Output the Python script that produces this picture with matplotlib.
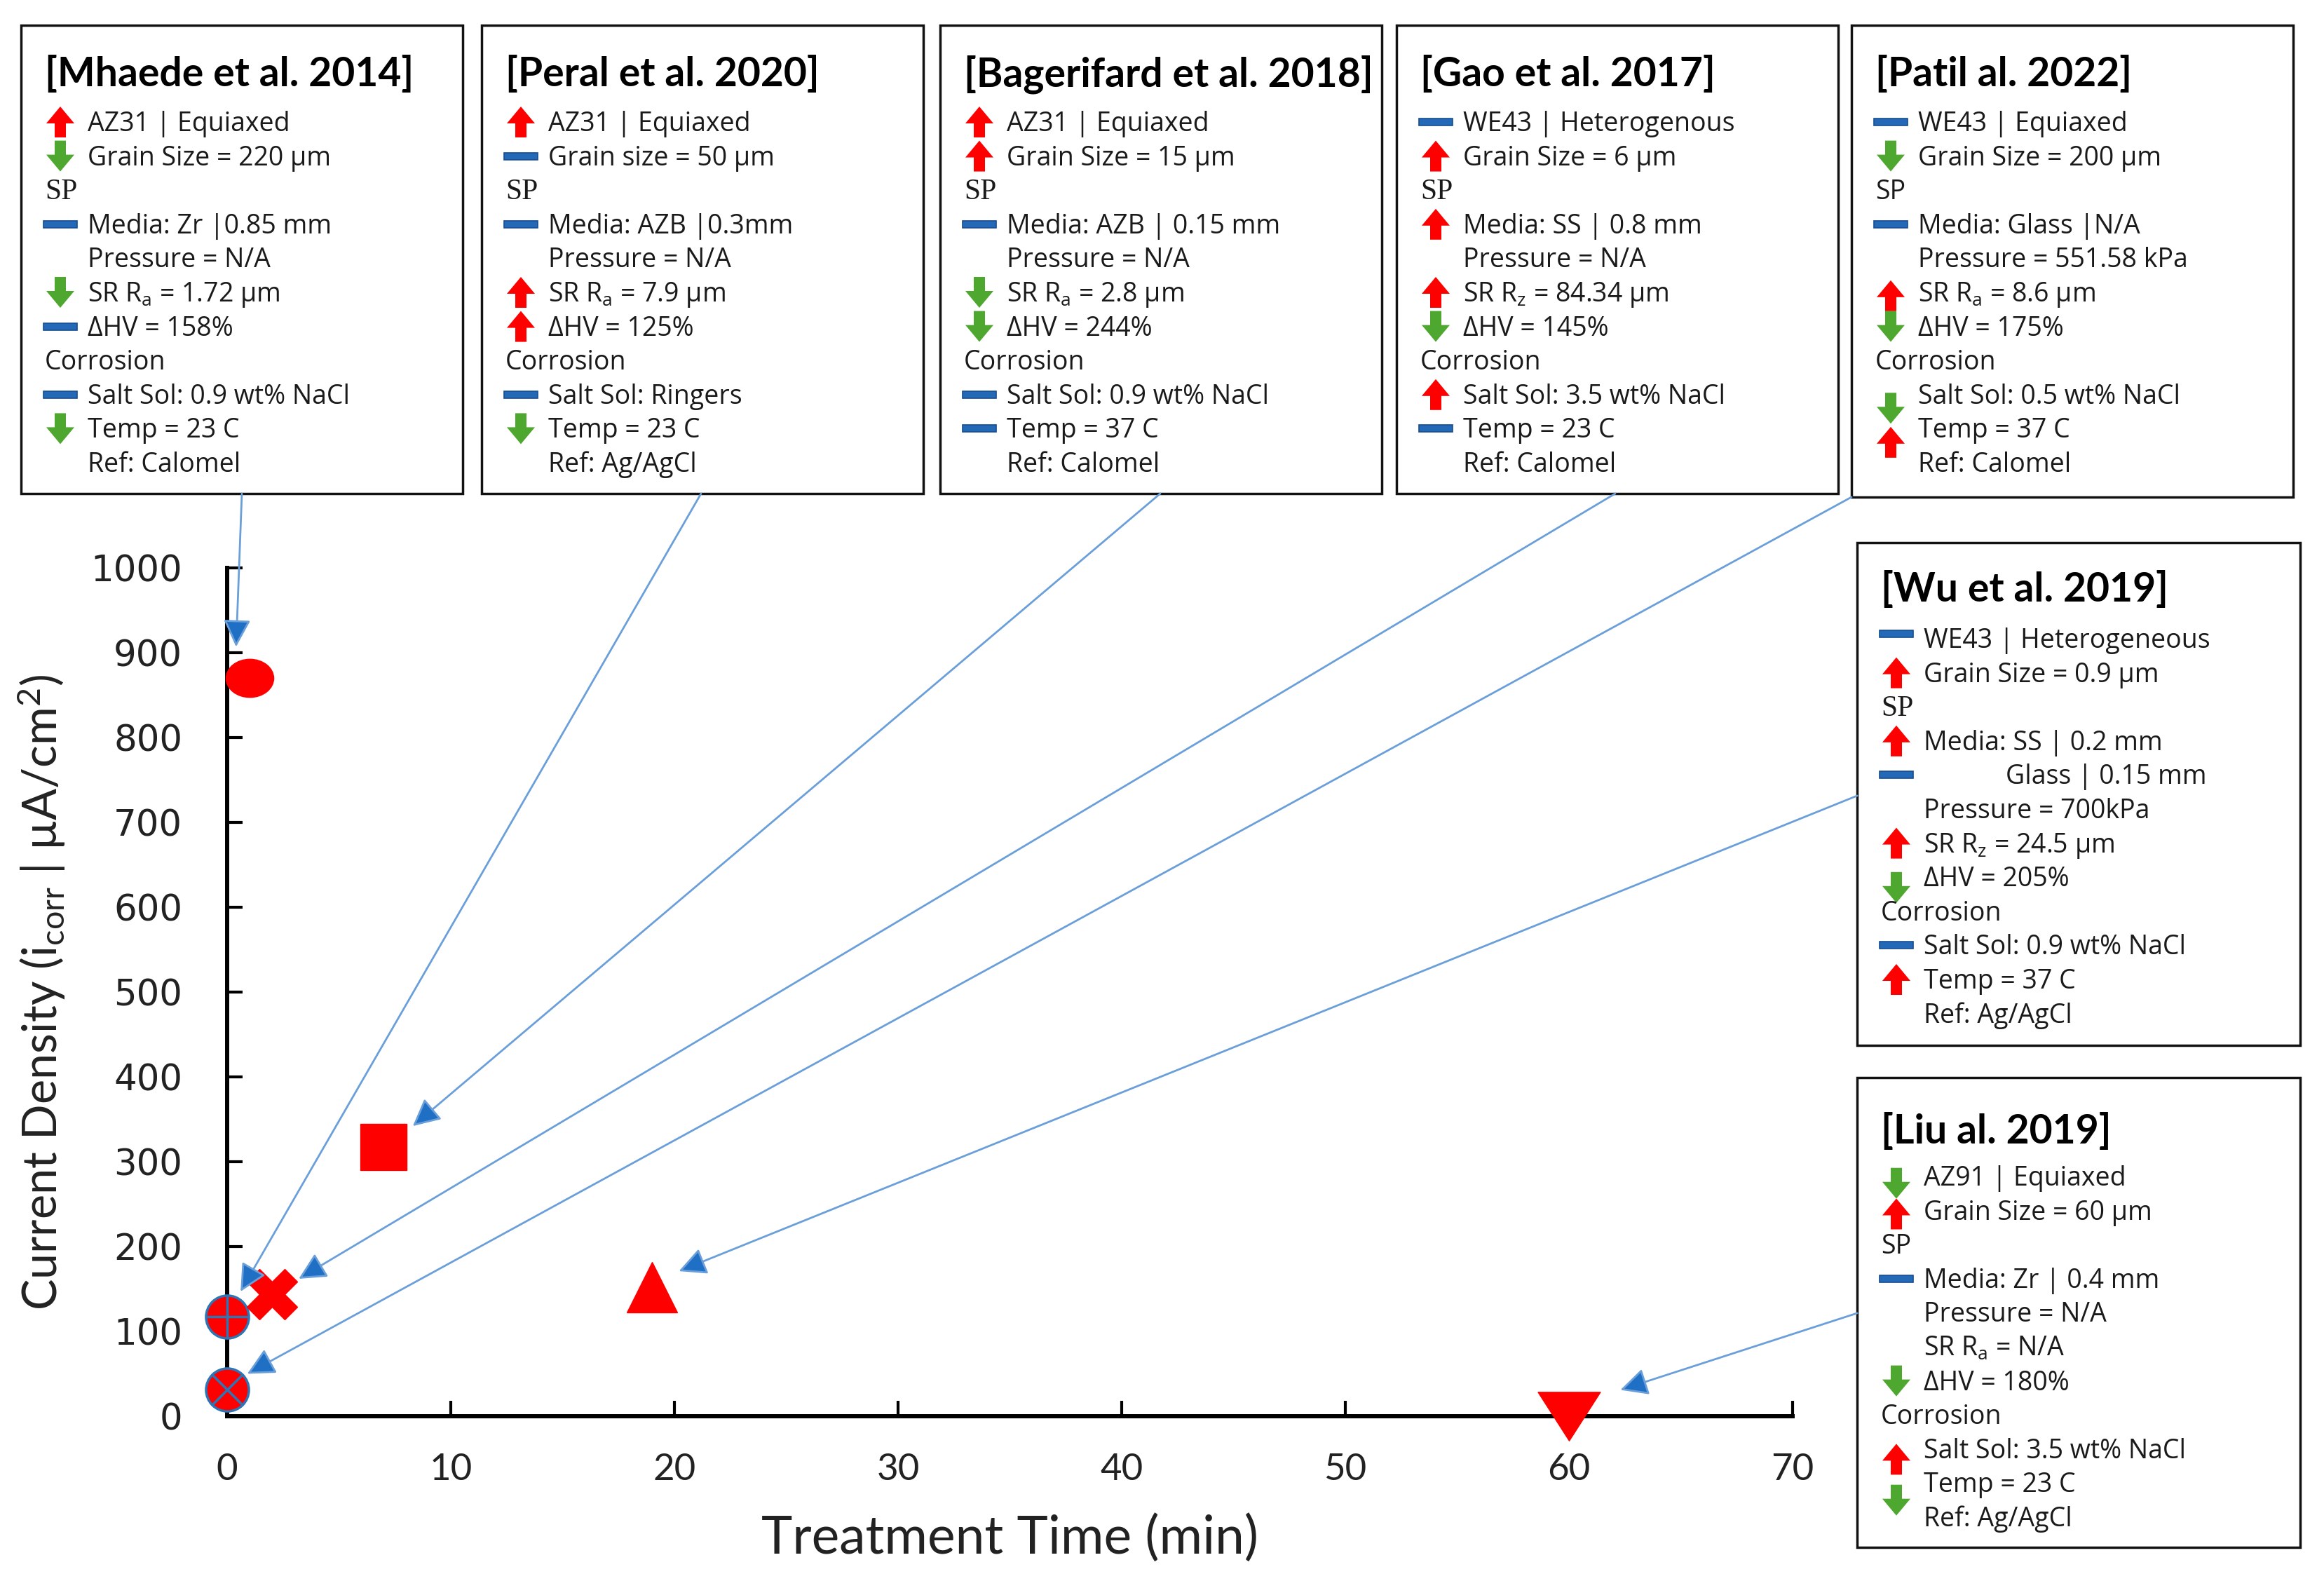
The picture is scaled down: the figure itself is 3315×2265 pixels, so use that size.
import matplotlib.pyplot as plt
from matplotlib.path import Path
from matplotlib.transforms import Affine2D
from matplotlib.patches import Rectangle, Polygon
from matplotlib import font_manager

# ---- data ----
studies = ['Mhaede et al. 2014', 'Peral et al. 2020', 'Bagerifard et al. 2018',
           'Gao et al. 2017', 'Patil al. 2022', 'Wu et al. 2019', 'Liu al. 2019']
treat_time = [1, 0, 7, 2, 0, 19, 60]          # min
i_corr = [870, 117, 317, 144, 31, 152, 0]     # uA/cm2

# where each leader arrow points (data coords)
arrow_x = [0.4, 0.6, 8.3, 3.2, 0.9, 20.2, 62.3]
arrow_y = [907, 147, 342, 162, 50, 171, 31]

xticks = [0, 10, 20, 30, 40, 50, 60, 70]
yticks = [0, 100, 200, 300, 400, 500, 600, 700, 800, 900, 1000]

# box text: u = increase (red), d = decrease (green), b = no change (blue)
mhaede_lines = ['AZ31 | Equiaxed', 'Grain Size = 220 µm', 'SP', 'Media: Zr |0.85 mm',
                'Pressure = N/A', 'SR R$_a$ = 1.72 µm', 'ΔHV = 158%', 'Corrosion',
                'Salt Sol: 0.9 wt% NaCl', 'Temp = 23 C', 'Ref: Calomel']
mhaede_icons = [('u', 0), ('d', 1), ('b', 3), ('d', 5), ('b', 6), ('b', 8), ('d', 9)]

peral_lines = ['AZ31 | Equiaxed', 'Grain size = 50 µm', 'SP', 'Media: AZB |0.3mm',
               'Pressure = N/A', 'SR R$_a$ = 7.9 µm', 'ΔHV = 125%', 'Corrosion',
               'Salt Sol: Ringers', 'Temp = 23 C', 'Ref: Ag/AgCl']
peral_icons = [('u', 0), ('b', 1), ('b', 3), ('u', 5), ('u', 6), ('b', 8), ('d', 9)]

bager_lines = ['AZ31 | Equiaxed', 'Grain Size = 15 µm', 'SP', 'Media: AZB | 0.15 mm',
               'Pressure = N/A', 'SR R$_a$ = 2.8 µm', 'ΔHV = 244%', 'Corrosion',
               'Salt Sol: 0.9 wt% NaCl', 'Temp = 37 C', 'Ref: Calomel']
bager_icons = [('u', 0), ('u', 1), ('b', 3), ('d', 5), ('d', 6), ('b', 8), ('b', 9)]

gao_lines = ['WE43 | Heterogenous', 'Grain Size = 6 µm', 'SP', 'Media: SS | 0.8 mm',
             'Pressure = N/A', 'SR R$_z$ = 84.34 µm', 'ΔHV = 145%', 'Corrosion',
             'Salt Sol: 3.5 wt% NaCl', 'Temp = 23 C', 'Ref: Calomel']
gao_icons = [('b', 0), ('u', 1), ('u', 3), ('u', 5), ('d', 6), ('u', 8), ('b', 9)]

patil_lines = ['WE43 | Equiaxed', 'Grain Size = 200 µm', 'SP', 'Media: Glass |N/A',
               'Pressure = 551.58 kPa', 'SR R$_a$ = 8.6 µm', 'ΔHV = 175%', 'Corrosion',
               'Salt Sol: 0.5 wt% NaCl', 'Temp = 37 C', 'Ref: Calomel']
patil_icons = [('b', 0), ('d', 1), ('b', 3), ('u', 5.1), ('d', 6), ('d', 8.4), ('u', 9.4)]

wu_lines = ['WE43 | Heterogeneous', 'Grain Size = 0.9 µm', 'SP', 'Media: SS | 0.2 mm',
            '            Glass | 0.15 mm', 'Pressure = 700kPa', 'SR R$_z$ = 24.5 µm',
            'ΔHV = 205%', 'Corrosion', 'Salt Sol: 0.9 wt% NaCl', 'Temp = 37 C', 'Ref: Ag/AgCl']
wu_icons = [('b', -0.15), ('u', 1), ('u', 3), ('b', 4), ('u', 6), ('d', 7.3), ('b', 9), ('u', 10)]

liu_lines = ['AZ91 | Equiaxed', 'Grain Size = 60 µm', 'SP', 'Media: Zr | 0.4 mm',
             'Pressure = N/A', 'SR R$_a$ = N/A', 'ΔHV = 180%', 'Corrosion',
             'Salt Sol: 3.5 wt% NaCl', 'Temp = 23 C', 'Ref: Ag/AgCl']
liu_icons = [('d', 0.2), ('u', 1.1), ('b', 3), ('d', 6), ('u', 8.3), ('d', 9.5)]

# ---- fonts / figure ----
W, H = 3316, 2265
names = {f.name for f in font_manager.fontManager.ttflist}
TITLE_FONT = 'Liberation Sans Narrow' if 'Liberation Sans Narrow' in names else 'Lato'
BODY_FONT = 'Open Sans'
BODY_SIZE = 27
plt.rcParams['mathtext.default'] = 'regular'

RED, GREEN, BLUE = '#FF0000', '#4EA72E', '#2468B8'
LEADER = '#6A9FDA'

fig = plt.figure(figsize=(W / 100, H / 100), dpi=100)
ax = fig.add_axes([324 / W, 1 - 2020 / H, (2557 - 324) / W, (2020 - 810) / H])

# markers
ellipse = Path.unit_circle().transformed(Affine2D().scale(1, 0.8))
down_tri = Path([(0, -0.78), (-1, 0.78), (1, 0.78), (0, -0.78)],
                [Path.MOVETO, Path.LINETO, Path.LINETO, Path.CLOSEPOLY])
styles = [dict(marker=ellipse, ms=49),
          dict(marker='o', ms=44, mec='#2E75B6', mew=2.5),
          dict(marker='s', ms=48),
          dict(marker='X', ms=52),
          dict(marker='o', ms=44, mec='#2E75B6', mew=2.5),
          dict(marker='^', ms=52),
          dict(marker=down_tri, ms=64)]
for x, y, st in zip(treat_time, i_corr, styles):
    kw = dict(color=RED, mfc=RED, ls='none', clip_on=False, zorder=5)
    if 'mec' not in st:
        kw['mec'] = RED
    kw.update(st)
    ax.plot([x], [y], **kw)
# cross / plus inside the blue-rimmed circles
ax.plot([treat_time[1]], [i_corr[1]], marker='+', ms=44, mew=2.5, color='#2E75B6',
        ls='none', clip_on=False, zorder=6)
ax.plot([treat_time[4]], [i_corr[4]], marker='x', ms=31, mew=2.5, color='#2E75B6',
        ls='none', clip_on=False, zorder=6)

ax.set_xlim(0, 70)
ax.set_ylim(0, 1000)
ax.set_xticks(xticks)
ax.set_yticks(yticks)
for s in ['top', 'right']:
    ax.spines[s].set_visible(False)
for s in ['left', 'bottom']:
    ax.spines[s].set_linewidth(4.3)
ax.tick_params(direction='in', length=16, width=3)
ax.tick_params(axis='y', pad=46)
ax.tick_params(axis='x', pad=38)
for lab in ax.get_yticklabels():
    lab.set_fontfamily('DejaVu Sans')
    lab.set_fontsize(37)
    lab.set_color('#222222')
for lab in ax.get_xticklabels():
    lab.set_fontfamily('Lato')
    lab.set_fontsize(38)
    lab.set_color('#222222')
ax.set_xlabel('Treatment Time (min)', fontfamily='Lato', fontsize=54, color='#222222')
ax.set_ylabel('Current Density (i$_{corr}$ | µA/cm$^{2}$)', fontfamily='Lato',
              fontsize=48, color='#222222')
ax.xaxis.set_label_coords(0.5, -0.115)
ax.yaxis.set_label_coords(-0.102, 0.5)

# ---- overlay in figure pixels (y down) for boxes ----
ov = fig.add_axes([0, 0, 1, 1], zorder=10)
ov.set_xlim(0, W)
ov.set_ylim(H, 0)
ov.axis('off')


def icon(kind, cx, cy):
    if kind == 'b':
        ov.add_patch(Rectangle((cx - 24, cy - 5), 48, 10, fc=BLUE, ec='#174E8F', lw=1.2))
        return
    s = -1 if kind == 'u' else 1
    col = RED if kind == 'u' else GREEN
    pts = [(cx, cy + s * 22), (cx + 20, cy - s * 2), (cx + 8, cy - s * 2), (cx + 8, cy - s * 22),
           (cx - 8, cy - s * 22), (cx - 8, cy - s * 2), (cx - 20, cy - s * 2)]
    ov.add_patch(Polygon(pts, closed=True, fc=col, ec='none'))


def info_box(left, top, right, bottom, title, lines, icons, title_y, first_y,
             serif_sp=True, step=48.6):
    ov.add_patch(Rectangle((left, top), right - left, bottom - top, fill=False,
                           ec='#111111', lw=2.5))
    ov.text(left + 34, title_y + 22, '[' + title + ']', fontfamily=TITLE_FONT,
            fontweight='bold', fontsize=41, va='baseline', ha='left', color='black')
    for i, t in enumerate(lines):
        y = first_y + i * step + 13
        if t in ('SP', 'Corrosion'):
            fam = 'Liberation Serif' if (t == 'SP' and serif_sp) else BODY_FONT
            size = BODY_SIZE + 3 if fam == 'Liberation Serif' else BODY_SIZE
            ov.text(left + 34, y, t, fontfamily=fam, fontsize=size, va='baseline',
                    ha='left', color='#1a1a1a')
        else:
            ov.text(left + 95, y, t, fontfamily=BODY_FONT, fontsize=BODY_SIZE,
                    va='baseline', ha='left', color='#1a1a1a')
    for kind, pos in icons:
        icon(kind, left + 56, first_y + pos * step)


top_boxes = [(30, mhaede_lines, mhaede_icons), (687, peral_lines, peral_icons),
             (1341, bager_lines, bager_icons), (1992, gao_lines, gao_icons)]
for k, (lft, lines, icons) in enumerate(top_boxes):
    info_box(lft, 36, lft + 630, 704, studies[k], lines, icons, 101, 174)
info_box(2641, 36, 3271, 709, studies[4], patil_lines, patil_icons, 101, 174,
         serif_sp=False)
info_box(2649, 774, 3281, 1491, studies[5], wu_lines, wu_icons, 836, 911)
info_box(2649, 1537, 3281, 2207, studies[6], liu_lines, liu_icons, 1609, 1678,
         serif_sp=False)

# leader arrows: from box edge (figure pixels) to the marker
tails = [(345, 704), (1000, 704), (1655, 704), (2304, 704), (2641, 709),
         (2649, 1135), (2649, 1873)]
for (px, py), tx, ty in zip(tails, arrow_x, arrow_y):
    ov.annotate('', xy=(tx, ty), xycoords=ax.transData, xytext=(px, py),
                textcoords='data', annotation_clip=False,
                arrowprops=dict(arrowstyle='-|>,head_length=0.8,head_width=0.4',
                                ec=LEADER, fc='#1F6FC5', lw=2, shrinkA=0, shrinkB=0,
                                mutation_scale=30))

fig.savefig('out.png', dpi=100)
